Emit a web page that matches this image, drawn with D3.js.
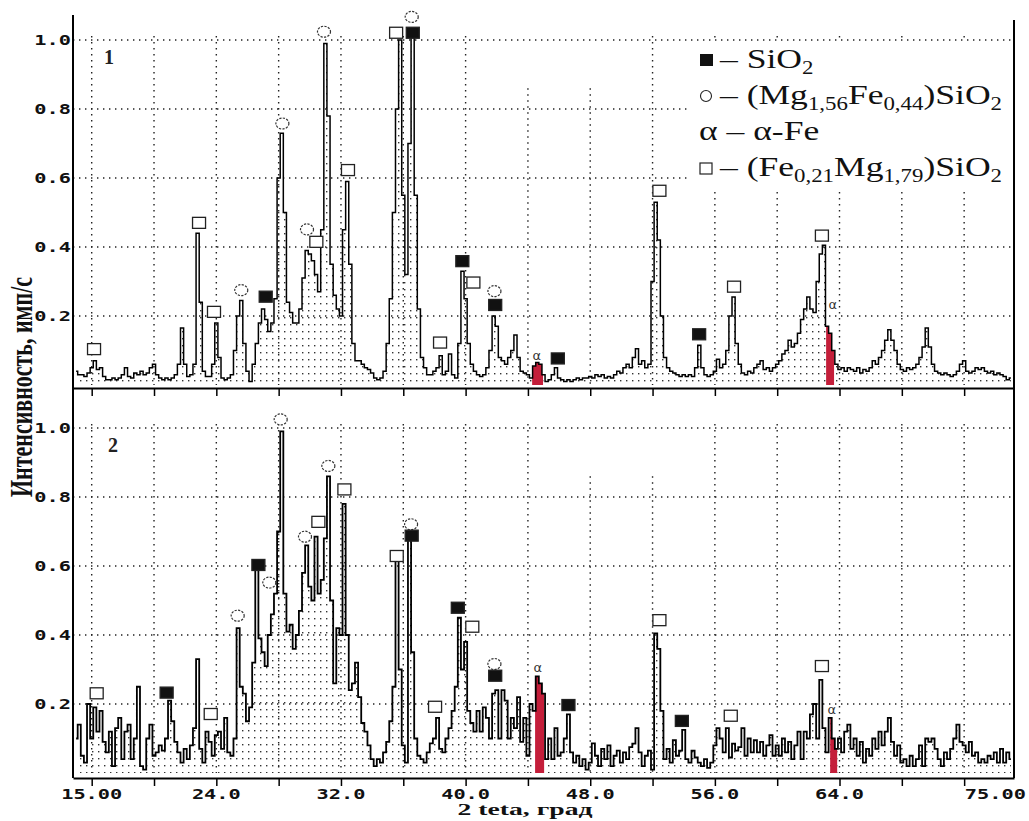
<!DOCTYPE html>
<html>
<head>
<meta charset="utf-8">
<script src="https://cdn.jsdelivr.net/npm/d3@7"></script>
<style>
  body { margin: 0; background: #fff; }
</style>
</head>
<body>
<div class="js-chart"></div>
<script>
// scan: 2θ from 15.0 deg, 0.2 deg per point, normalised intensity
var scanStart = 15.0, scanStep = 0.2;

var counts1 = [
  0.04,0.03,0.03,0.025,0.035,0.05,0.07,0.045,0.05,0.025,
  0.015,0.015,0.02,0.015,0.02,0.03,0.05,0.025,0.02,0.035,
  0.03,0.04,0.03,0.035,0.05,0.06,0.03,0.02,0.015,0.02,
  0.015,0.02,0.03,0.06,0.165,0.06,0.025,0.03,0.06,0.44,
  0.24,0.04,0.025,0.025,0.06,0.18,0.08,0.02,0.015,0.02,
  0.03,0.1,0.2,0.245,0.12,0.04,0.01,0.06,0.12,0.18,
  0.22,0.19,0.155,0.18,0.25,0.6,0.73,0.5,0.24,0.21,
  0.18,0.18,0.22,0.31,0.39,0.38,0.36,0.32,0.27,0.45,
  0.99,0.78,0.35,0.26,0.22,0.2,0.45,0.59,0.35,0.12,
  0.07,0.07,0.06,0.05,0.045,0.035,0.02,0.015,0.02,0.04,
  0.12,0.25,0.5,0.8,1.0,0.55,0.32,0.7,1.01,0.55,
  0.22,0.08,0.05,0.03,0.03,0.04,0.05,0.085,0.03,0.04,
  0.09,0.03,0.02,0.12,0.33,0.25,0.12,0.06,0.04,0.03,
  0.025,0.03,0.05,0.1,0.2,0.17,0.08,0.07,0.06,0.08,
  0.1,0.145,0.08,0.04,0.035,0.03,0.02,0.055,0.065,0.06,
  0.03,0.01,0.015,0.03,0.05,0.02,0.015,0.01,0.015,0.01,
  0.015,0.02,0.015,0.02,0.02,0.025,0.02,0.03,0.025,0.03,
  0.02,0.025,0.02,0.03,0.04,0.035,0.05,0.06,0.05,0.08,
  0.105,0.06,0.07,0.05,0.06,0.3,0.53,0.42,0.2,0.08,
  0.05,0.04,0.035,0.03,0.025,0.03,0.025,0.03,0.025,0.05,
  0.115,0.05,0.03,0.025,0.03,0.04,0.075,0.05,0.06,0.1,
  0.2,0.255,0.12,0.06,0.035,0.03,0.04,0.035,0.05,0.06,
  0.07,0.045,0.05,0.04,0.05,0.06,0.07,0.09,0.1,0.13,
  0.11,0.12,0.15,0.19,0.22,0.255,0.22,0.21,0.3,0.38,
  0.405,0.17,0.15,0.1,0.06,0.045,0.05,0.04,0.05,0.045,
  0.04,0.05,0.035,0.045,0.04,0.05,0.07,0.06,0.08,0.1,
  0.13,0.16,0.13,0.1,0.06,0.045,0.04,0.05,0.045,0.05,
  0.06,0.08,0.11,0.165,0.11,0.06,0.04,0.035,0.03,0.035,
  0.03,0.025,0.03,0.04,0.06,0.07,0.04,0.035,0.04,0.05,
  0.045,0.05,0.04,0.035,0.04,0.03,0.035,0.03,0.025,0.015,
  0.02
];

var counts2 = [
  0.1,0.14,0.05,0.03,0.2,0.1,0.19,0.12,0.18,0.09,
  0.06,0.12,0.02,0.13,0.16,0.04,0.12,0.14,0.04,0.1,
  0.25,0.02,0.01,0.1,0.14,0.05,0.06,0.08,0.065,0.1,
  0.21,0.15,0.09,0.06,0.03,0.07,0.04,0.08,0.13,0.33,
  0.07,0.03,0.12,0.09,0.05,0.11,0.12,0.07,0.16,0.06,
  0.05,0.1,0.42,0.25,0.23,0.15,0.19,0.32,0.59,0.39,
  0.35,0.31,0.4,0.46,0.52,0.7,0.99,0.52,0.41,0.43,
  0.36,0.4,0.47,0.58,0.66,0.54,0.5,0.685,0.52,0.56,
  0.68,0.86,0.5,0.26,0.42,0.4,0.78,0.4,0.24,0.26,
  0.32,0.22,0.145,0.12,0.08,0.04,0.02,0.04,0.03,0.06,
  0.09,0.15,0.25,0.63,0.3,0.08,0.03,0.68,0.35,0.1,
  0.05,0.04,0.03,0.06,0.086,0.1,0.16,0.07,0.06,0.1,
  0.13,0.18,0.25,0.45,0.3,0.38,0.18,0.145,0.12,0.18,
  0.12,0.19,0.16,0.1,0.23,0.24,0.1,0.24,0.21,0.1,
  0.16,0.13,0.22,0.09,0.16,0.05,0.2,0.18,0.28,0.26,
  0.23,0.04,0.1,0.04,0.13,0.05,0.06,0.1,0.17,0.06,
  0.03,0.05,0.02,0.04,0.01,0.03,0.086,0.05,0.02,0.07,
  0.04,0.08,0.02,0.05,0.065,0.03,0.06,0.04,0.075,0.085,
  0.13,0.06,0.02,0.05,0.065,0.01,0.405,0.36,0.18,0.04,
  0.07,0.03,0.095,0.05,0.065,0.125,0.04,0.03,0.065,0.045,
  0.03,0.02,0.04,0.015,0.03,0.08,0.13,0.1,0.06,0.13,
  0.045,0.085,0.065,0.075,0.13,0.05,0.1,0.06,0.095,0.06,
  0.09,0.05,0.08,0.11,0.05,0.08,0.05,0.1,0.06,0.09,
  0.04,0.08,0.12,0.04,0.12,0.1,0.17,0.2,0.1,0.27,
  0.13,0.06,0.16,0.1,0.07,0.1,0.06,0.12,0.14,0.07,
  0.1,0.05,0.09,0.03,0.07,0.05,0.1,0.07,0.12,0.08,
  0.12,0.16,0.09,0.05,0.08,0.03,0.04,0.02,0.05,0.02,
  0.04,0.08,0.02,0.1,0.09,0.1,0.07,0.04,0.02,0.06,
  0.04,0.07,0.1,0.14,0.09,0.08,0.06,0.09,0.05,0.06,
  0.03,0.04,0.03,0.05,0.04,0.06,0.03,0.07,0.03,0.06,
  0.04
];

// phase marks: [2θ, level, kind]  sq = (Fe,Mg)SiO2, fsq = SiO2, ci = (Mg,Fe)SiO2, a = α-Fe
var peaks1 = [
  [16.15,0.104,'sq'], [22.89,0.47,'sq'], [23.85,0.212,'sq'], [25.6,0.275,'ci'],
  [27.17,0.256,'fsq'], [28.24,0.758,'ci'], [29.82,0.451,'ci'], [30.42,0.415,'sq'],
  [30.91,1.024,'ci'], [32.45,0.623,'sq'], [35.54,1.021,'sq'], [36.61,1.021,'fsq'],
  [36.54,1.067,'ci'], [38.36,0.123,'sq'], [39.79,0.359,'fsq'], [40.5,0.297,'sq'],
  [41.85,0.272,'ci'], [41.9,0.232,'fsq'], [44.57,0.084,'a'], [45.92,0.077,'fsq'],
  [52.44,0.563,'sq'], [54.99,0.147,'fsq'], [57.23,0.285,'sq'], [62.87,0.433,'sq'],
  [63.57,0.232,'a']
];
var peaks2 = [
  [16.32,0.231,'sq'], [20.81,0.233,'fsq'], [23.64,0.171,'sq'], [25.37,0.456,'ci'],
  [26.7,0.603,'fsq'], [27.4,0.552,'ci'], [28.13,1.025,'ci'], [29.69,0.685,'ci'],
  [30.55,0.728,'sq'], [31.19,0.89,'ci'], [32.22,0.822,'sq'], [35.58,0.629,'sq'],
  [36.5,0.721,'ci'], [36.54,0.688,'fsq'], [38.04,0.192,'sq'], [39.5,0.479,'fsq'],
  [40.43,0.424,'sq'], [41.85,0.316,'ci'], [41.9,0.282,'fsq'], [44.63,0.305,'a'],
  [46.6,0.197,'fsq'], [52.44,0.443,'sq'], [53.88,0.151,'fsq'], [57.02,0.166,'sq'],
  [62.87,0.31,'sq'], [63.5,0.183,'a']
];

// α-Fe reflections shaded red
var alphaFe1 = [[44.27, 44.97], [63.14, 63.65]];
var alphaFe2 = [[44.46, 45.04], [63.4, 63.85]];

var yTicks = [0.2, 0.4, 0.6, 0.8, 1.0];
var xGrid = [16, 20, 24, 28, 32, 36, 40, 44, 48, 52, 56, 60, 64, 68, 72];
var xLabels = [[16, '15.00'], [24, '24.0'], [32, '32.0'], [40, '40.0'], [48, '48.0'], [56, '56.0'], [64, '64.0'], [75, '75.00']];

var legendRows = [
  { kind: 'fsq', parts: [['– SiO', 0], ['2', 1]] },
  { kind: 'ci', parts: [['– (Mg', 0], ['1,56', 1], ['Fe', 0], ['0,44', 1], [')SiO', 0], ['2', 1]] },
  { kind: 'a', parts: [['– α-Fe', 0]] },
  { kind: 'sq', parts: [['– (Fe', 0], ['0,21', 1], ['Mg', 0], ['1,79', 1], [')SiO', 0], ['2', 1]] }
];

var svg = d3.select('.js-chart')
  .append('svg')
  .attr('width', 1029)
  .attr('height', 821)
  .style('display', 'block');

var x = d3.scaleLinear().domain([14.8, 75.2]).range([73, 1014]);

var defs = svg.append('defs');
var pat = defs.append('pattern')
  .attr('id', 'dots')
  .attr('patternUnits', 'userSpaceOnUse')
  .attr('width', 6)
  .attr('height', 7);
pat.append('rect').attr('x', 2).attr('y', 2).attr('width', 1.4).attr('height', 1.4).attr('fill', '#333');

var panels = [
  { counts: counts1, peaks: peaks1, alpha: alphaFe1, y: d3.scaleLinear().domain([0, 1]).range([385, 40]), base: 388, name: '1', short: [44, 48], lw: 1.5 },
  { counts: counts2, peaks: peaks2, alpha: alphaFe2, y: d3.scaleLinear().domain([0, 1]).range([773, 428]), base: 778, name: '2', short: [48, 52], lw: 1.8 }
];

function twoTheta(i) { return scanStart + i * scanStep; }

function drawPanel(p, k) {
  var y = p.y;
  var g = svg.append('g').attr('class', 'panel-' + p.name);

  // dotted grid
  g.selectAll('.hgrid')
    .data(yTicks)
    .enter()
    .append('line')
    .attr('x1', x.range()[0]).attr('x2', x.range()[1])
    .attr('y1', function(d) { return y(d) }).attr('y2', function(d) { return y(d) })
    .attr('stroke', '#222').attr('stroke-width', 1.4).attr('stroke-dasharray', '1.4 4.6');

  g.selectAll('.vgrid')
    .data(xGrid)
    .enter()
    .append('line')
    .attr('x1', function(d) { return x(d) }).attr('x2', function(d) { return x(d) })
    .attr('y1', function(d) { return p.short.indexOf(d) >= 0 ? y(0.86) : y(1.0) - 4 })
    .attr('y2', y(0))
    .attr('stroke', '#222').attr('stroke-width', 1.4).attr('stroke-dasharray', '1.4 4.6');

  // legend box sits on the top panel
  if (k === 0) drawLegend(g);

  var area = d3.area()
    .x(function(d, i) { return x(twoTheta(i)) })
    .y0(y(0))
    .y1(function(d) { return y(d) })
    .curve(d3.curveStep);

  var line = d3.line()
    .x(function(d, i) { return x(twoTheta(i)) })
    .y(function(d) { return y(d) })
    .curve(d3.curveStep);

  g.append('path')
    .datum(p.counts)
    .attr('d', area)
    .attr('fill', 'url(#dots)');

  p.alpha.forEach(function(r, j) {
    var id = 'clip-' + p.name + '-' + j;
    defs.append('clipPath').attr('id', id)
      .append('rect')
      .attr('x', x(r[0])).attr('width', x(r[1]) - x(r[0]))
      .attr('y', y(1.1)).attr('height', y(0) - y(1.1) + 4);
    g.append('path')
      .datum(p.counts)
      .attr('d', area)
      .attr('clip-path', 'url(#' + id + ')')
      .attr('fill', '#c41e3a');
  });

  g.append('path')
    .datum(p.counts)
    .attr('d', line)
    .attr('fill', 'none')
    .attr('stroke', '#000')
    .attr('stroke-width', p.lw);

  // phase markers
  var marks = g.selectAll('.mark')
    .data(p.peaks)
    .enter()
    .append('g')
    .attr('transform', function(d) { return 'translate(' + x(d[0]) + ',' + y(d[1]) + ')' });

  marks.filter(function(d) { return d[2] === 'sq' || d[2] === 'fsq' })
    .append('rect')
    .attr('x', -6.5).attr('y', -5.5).attr('width', 13).attr('height', 11)
    .attr('fill', function(d) { return d[2] === 'fsq' ? '#111' : '#fff' })
    .attr('stroke', '#222').attr('stroke-width', 1.3);

  marks.filter(function(d) { return d[2] === 'ci' })
    .append('ellipse')
    .attr('rx', 6.5).attr('ry', 5.5)
    .attr('fill', '#fff')
    .attr('stroke', '#333').attr('stroke-width', 1.2).attr('stroke-dasharray', '2.2 1.3');

  marks.filter(function(d) { return d[2] === 'a' })
    .append('text')
    .attr('text-anchor', 'middle')
    .attr('y', 4)
    .attr('font-family', 'DejaVu Sans, sans-serif')
    .attr('font-size', 13)
    .attr('fill', '#333')
    .text('α');

  // axis
  var axis = d3.axisBottom(x).tickValues(xGrid).tickSize(8).tickSizeOuter(0).tickFormat('');
  var ax = g.append('g').attr('transform', 'translate(0,' + p.base + ')').call(axis);
  ax.select('.domain').attr('stroke', '#000').attr('stroke-width', 2);
  ax.selectAll('.tick line').attr('stroke', '#000').attr('stroke-width', 1.5);

  g.selectAll('.ylab')
    .data(yTicks)
    .enter()
    .append('text')
    .attr('transform', function(d) { return 'translate(71,' + (y(d) + 5) + ') scale(1.45,1)' })
    .attr('text-anchor', 'end')
    .attr('font-family', 'DejaVu Sans Mono, monospace')
    .attr('font-weight', 'bold')
    .attr('font-size', 14)
    .attr('fill', '#111')
    .text(function(d) { return d.toFixed(1) });

  g.append('text')
    .attr('x', k === 0 ? 109 : 113)
    .attr('y', y(1.0) + 24)
    .attr('text-anchor', 'middle')
    .attr('font-family', 'Liberation Serif, serif')
    .attr('font-weight', 'bold')
    .attr('font-size', 20)
    .attr('fill', '#222')
    .text(p.name);
}

function drawLegend(g) {
  g.append('rect')
    .attr('x', 688).attr('y', 42).attr('width', 324).attr('height', 150)
    .attr('fill', '#fff');

  var rows = g.selectAll('.legend-row')
    .data(legendRows)
    .enter()
    .append('g')
    .attr('transform', function(d, i) { return 'translate(699,' + (68 + i * 36) + ')' });

  rows.filter(function(d) { return d.kind === 'fsq' })
    .append('rect').attr('x', 1).attr('y', -14).attr('width', 13).attr('height', 12).attr('fill', '#111');
  rows.filter(function(d) { return d.kind === 'sq' })
    .append('rect').attr('x', 1).attr('y', -13).attr('width', 12).attr('height', 11)
    .attr('fill', '#fff').attr('stroke', '#222').attr('stroke-width', 1.2);
  rows.filter(function(d) { return d.kind === 'ci' })
    .append('circle').attr('cx', 7).attr('cy', -8).attr('r', 5.5)
    .attr('fill', '#fff').attr('stroke', '#222').attr('stroke-width', 1.1);

  var txt = rows.append('text')
    .attr('transform', function(d) { return d.kind === 'a' ? 'scale(1.27,1)' : 'translate(21,0) scale(1.27,1)' })
    .attr('font-family', 'Liberation Serif, serif')
    .attr('font-size', 28)
    .attr('fill', '#111');

  txt.filter(function(d) { return d.kind === 'a' })
    .append('tspan').text('α ');

  txt.selectAll('.part')
    .data(function(d) { return d.parts })
    .enter()
    .append('tspan')
    .attr('font-size', function(d) { return d[1] ? 18 : 28 })
    .attr('dy', function(d, i, nodes) {
      var prev = i > 0 ? d3.select(nodes[i - 1]).datum()[1] : 0;
      return (d[1] - prev) * 6;
    })
    .text(function(d) { return d[0] });
}

panels.forEach(drawPanel);

// outer frame lines
svg.append('line').attr('x1', 73).attr('x2', 73).attr('y1', 15).attr('y2', 778)
  .attr('stroke', '#000').attr('stroke-width', 2);
svg.append('line').attr('x1', 1014).attr('x2', 1014).attr('y1', 20).attr('y2', 778)
  .attr('stroke', '#000').attr('stroke-width', 2);

// x tick labels on the lower panel only
svg.selectAll('.xlab')
  .data(xLabels)
  .enter()
  .append('text')
  .attr('transform', function(d, i) {
    var px = i === xLabels.length - 1 ? x(d[0]) + 15 : x(d[0]);
    return 'translate(' + px + ',799) scale(1.45,1)';
  })
  .attr('text-anchor', function(d, i) { return i === xLabels.length - 1 ? 'end' : 'middle' })
  .attr('font-family', 'DejaVu Sans Mono, monospace')
  .attr('font-weight', 'bold')
  .attr('font-size', 14)
  .attr('fill', '#111')
  .text(function(d) { return d[1] });

svg.append('text')
  .attr('transform', 'translate(32,387) scale(1.5,1) rotate(-90)')
  .attr('text-anchor', 'middle')
  .attr('font-family', 'Liberation Serif, serif')
  .attr('font-weight', 'bold')
  .attr('font-size', 21)
  .attr('textLength', 220)
  .attr('lengthAdjust', 'spacingAndGlyphs')
  .attr('fill', '#111')
  .text('Интенсивность, имп/с');

svg.append('text')
  .attr('x', 525)
  .attr('y', 815)
  .attr('text-anchor', 'middle')
  .attr('font-family', 'Liberation Serif, serif')
  .attr('font-weight', 'bold')
  .attr('font-size', 17)
  .attr('textLength', 135)
  .attr('lengthAdjust', 'spacingAndGlyphs')
  .attr('fill', '#111')
  .text('2 teta, град');
</script>
</body>
</html>
